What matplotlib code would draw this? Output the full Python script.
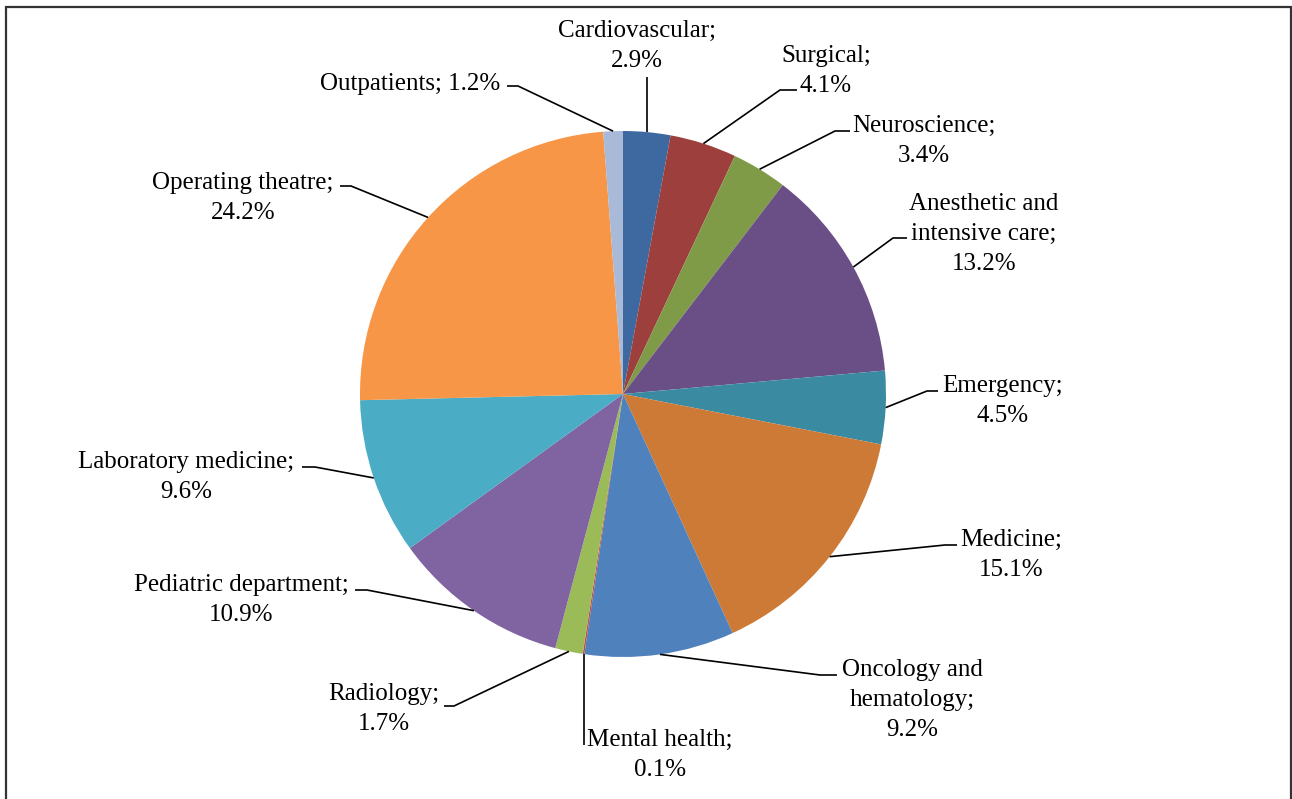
import numpy as np
import matplotlib
matplotlib.use("Agg")
import matplotlib.pyplot as plt
from matplotlib.patches import Rectangle

W, H = 1292, 799

# data
categories = ["Cardiovascular", "Surgical", "Neuroscience", "Anesthetic and\nintensive care",
              "Emergency", "Medicine", "Oncology and\nhematology", "Mental health",
              "Radiology", "Pediatric department", "Laboratory medicine",
              "Operating theatre", "Outpatients"]
values = [2.9, 4.1, 3.4, 13.2, 4.5, 15.1, 9.2, 0.1, 1.7, 10.9, 9.6, 24.2, 1.2]
colors = ["#3D69A0", "#9D3F3C", "#7F9B48", "#6A4F86", "#3A8BA2", "#CD7A37", "#4F81BD",
          "#C0504D", "#9BBB59", "#8064A2", "#4BACC6", "#F79646", "#A9BAD9"]

# label layout (pixels, y from top): text centre, elbow, end of horizontal tick
text_pos = [(637, 46), (826, 71), (924, 141), (984, 234), (1003, 401), (1011, 555),
            (912, 700), (660, 755), (384, 709), (241, 600), (186, 477), (243, 198), (410, 84)]
elbow = [(None, 77), (780, 90), (835, 131), (893, 238), (927, 391), (945, 545),
         (820, 675), (None, 745), (454, 706), (367, 590), (315, 467), (351, 186), (518, 86)]
tick_end = [None, 797, 850, 907, 938, 957, 837, None, 444, 355, 302, 340, 507]

cx, cy, R = 623, 394, 263

fig = plt.figure(figsize=(W / 100, H / 100), dpi=100)
ax = fig.add_axes([0, 0, 1, 1])

def fy(y):
    return H - y

wedges, _ = ax.pie(values, colors=colors, startangle=90, counterclock=False,
                   center=(cx, fy(cy)), radius=R, frame=True,
                   wedgeprops=dict(linewidth=0))
ax.set_xlim(0, W)
ax.set_ylim(0, H)
ax.set_aspect("equal")
ax.axis("off")

font = dict(family="Liberation Serif", fontsize=18, color="black")

for i, w in enumerate(wedges):
    ang = np.deg2rad((w.theta1 + w.theta2) / 2)
    px, py = cx + R * np.cos(ang), fy(cy) + R * np.sin(ang)
    ex, ey = elbow[i]
    if ex is None:
        ex = px
    xs = [px, ex]
    ys = [py, fy(ey)]
    if tick_end[i] is not None:
        xs.append(tick_end[i])
        ys.append(fy(ey))
    ax.plot(xs, ys, color="black", lw=1.2, solid_capstyle="butt")
    sep = "; " if categories[i] == "Outpatients" else ";\n"
    tx, ty = text_pos[i]
    ax.text(tx, fy(ty), f"{categories[i]}{sep}{values[i]}%", ha="center", va="center",
            multialignment="center", linespacing=1.45, **font)

# outer frame
fig.patches.append(Rectangle((6 / W, -0.01), (1291 - 6) / W, (H - 7) / H + 0.01,
                             transform=fig.transFigure, fill=False,
                             edgecolor="#333333", linewidth=1.6))

fig.savefig("out.png", dpi=100)
